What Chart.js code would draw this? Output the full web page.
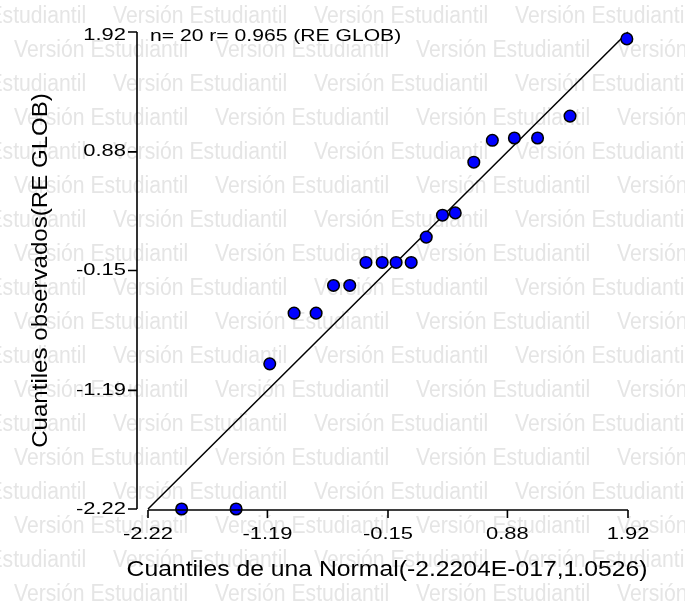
<!DOCTYPE html>
<html lang="es">
<head>
    <meta charset="UTF-8">
    <title>Cuantiles observados (RE GLOB)</title>
    <script src="https://cdn.jsdelivr.net/npm/chart.js"></script>
    <style>
        body {
            margin: 0;
            padding: 0;
            background-color: #fff;
        }
        #qq-chart {
            display: block;
        }
    </style>
</head>
<body>
    <canvas id="qq-chart" width="685" height="608"></canvas>
    <script>
        // values
        const normalQuantiles = [-1.93, -1.46, -1.17, -0.96, -0.77, -0.62, -0.48, -0.34, -0.20, -0.08,
                                 0.05, 0.18, 0.32, 0.43, 0.59, 0.75, 0.94, 1.14, 1.42, 1.91];
        const observedQuantiles = [-2.22, -2.22, -0.96, -0.52, -0.52, -0.28, -0.28, -0.08, -0.08, -0.08,
                                   -0.08, 0.14, 0.33, 0.35, 0.79, 0.98, 1.00, 1.00, 1.19, 1.86];
        const tickValues = [-2.22, -1.19, -0.15, 0.88, 1.92];
        const refLineX = [-2.22, 1.92];
        const refLineY = [-2.22, 1.92];
        const titleText = 'n= 20 r= 0.965 (RE GLOB)';
        const xTitle = 'Cuantiles de una Normal(-2.2204E-017,1.0526)';
        const yTitle = 'Cuantiles observados(RE GLOB)';
        const watermarkText = 'Versión Estudiantil';

        const FONT = 'Arial, "Liberation Sans", sans-serif';

        // text in the original looks horizontally stretched
        const drawText = (ctx, text, x, y, size, sx, align, rot) => {
            ctx.save();
            ctx.font = size + 'px ' + FONT;
            ctx.fillStyle = '#000';
            ctx.textAlign = align;
            ctx.textBaseline = 'middle';
            ctx.translate(x, y);
            if (rot) ctx.rotate(rot);
            ctx.scale(sx, 1);
            ctx.fillText(text, 0, 0);
            ctx.restore();
        };

        const watermark = {
            id: 'watermark',
            beforeDraw(chart) {
                const ctx = chart.ctx;
                ctx.save();
                ctx.font = '23px ' + FONT;
                ctx.fillStyle = '#e5e5e5';
                ctx.textBaseline = 'middle';
                for (let k = 0; k < 18; k++) {
                    const y = 17 + k * 34;
                    let x = (k % 2 === 0 ? 113 : 14) - 201;
                    for (; x < chart.width; x += 201) {
                        ctx.save();
                        ctx.translate(x, y);
                        ctx.scale(0.92, 1);
                        ctx.fillText(watermarkText, 0, 0);
                        ctx.restore();
                    }
                }
                ctx.restore();
            }
        };

        const axesFrame = {
            id: 'axesFrame',
            afterDraw(chart) {
                const ctx = chart.ctx;
                const xs = chart.scales.x, ys = chart.scales.y;
                const area = chart.chartArea;
                const axisX = area.left - 11;
                const axisY = area.bottom + 1;

                ctx.save();
                ctx.strokeStyle = '#000';
                ctx.lineWidth = 1.6;
                ctx.beginPath();
                ctx.moveTo(axisX, ys.getPixelForValue(tickValues[tickValues.length - 1]));
                ctx.lineTo(axisX, ys.getPixelForValue(tickValues[0]));
                ctx.moveTo(xs.getPixelForValue(tickValues[0]), axisY);
                ctx.lineTo(xs.getPixelForValue(tickValues[tickValues.length - 1]), axisY);
                ys.ticks.forEach(t => {
                    const py = ys.getPixelForValue(t.value);
                    ctx.moveTo(axisX, py);
                    ctx.lineTo(axisX - 9, py);
                });
                xs.ticks.forEach(t => {
                    const px = xs.getPixelForValue(t.value);
                    ctx.moveTo(px, axisY);
                    ctx.lineTo(px, axisY + 8);
                });
                ctx.stroke();
                ctx.restore();

                ys.ticks.forEach((t, i) => {
                    let py = ys.getPixelForValue(t.value);
                    if (i === ys.ticks.length - 1) py += 3;
                    drawText(ctx, t.value.toFixed(2), axisX - 11, py, 16.5, 1.33, 'right');
                });
                xs.ticks.forEach(t => {
                    drawText(ctx, t.value.toFixed(2), xs.getPixelForValue(t.value), axisY + 24, 16.5, 1.33, 'center');
                });

                drawText(ctx, titleText, area.left + 2, 36, 16.5, 1.28, 'left');
                drawText(ctx, xTitle, (area.left + area.right) / 2 - 1, 570, 21.5, 1.15, 'center');
                drawText(ctx, yTitle, 41, (area.top + area.bottom) / 2, 21.5, 1.12, 'center', -Math.PI / 2);
            }
        };

        const setTicks = scale => {
            scale.ticks = tickValues.map(v => ({ value: v }));
        };

        const ctx = document.getElementById('qq-chart').getContext('2d');
        new Chart(ctx, {
            type: 'scatter',
            data: {
                datasets: [
                    {
                        label: 'RE GLOB',
                        data: normalQuantiles.map((x, i) => ({ x, y: observedQuantiles[i] })),
                        backgroundColor: '#0000ff',
                        borderColor: '#000',
                        borderWidth: 1.5,
                        pointRadius: 5.8,
                        clip: false,
                        order: 1
                    },
                    {
                        type: 'line',
                        label: 'ref',
                        data: refLineX.map((x, i) => ({ x, y: refLineY[i] })),
                        borderColor: '#000',
                        borderWidth: 1.5,
                        pointRadius: 0,
                        fill: false,
                        clip: false,
                        order: 2
                    }
                ]
            },
            options: {
                responsive: false,
                animation: false,
                events: [],
                layout: { padding: { left: 0, right: 57, top: 32, bottom: 0 } },
                plugins: {
                    legend: { display: false },
                    tooltip: { enabled: false }
                },
                scales: {
                    x: {
                        type: 'linear',
                        min: tickValues[0],
                        max: tickValues[tickValues.length - 1],
                        ticks: { display: false },
                        grid: { display: false, drawTicks: false },
                        border: { display: false },
                        afterBuildTicks: setTicks,
                        afterFit: s => { s.height = 99; }
                    },
                    y: {
                        type: 'linear',
                        min: tickValues[0],
                        max: tickValues[tickValues.length - 1],
                        ticks: { display: false },
                        grid: { display: false, drawTicks: false },
                        border: { display: false },
                        afterBuildTicks: setTicks,
                        afterFit: s => { s.width = 148; }
                    }
                }
            },
            plugins: [watermark, axesFrame]
        });
    </script>
</body>
</html>
